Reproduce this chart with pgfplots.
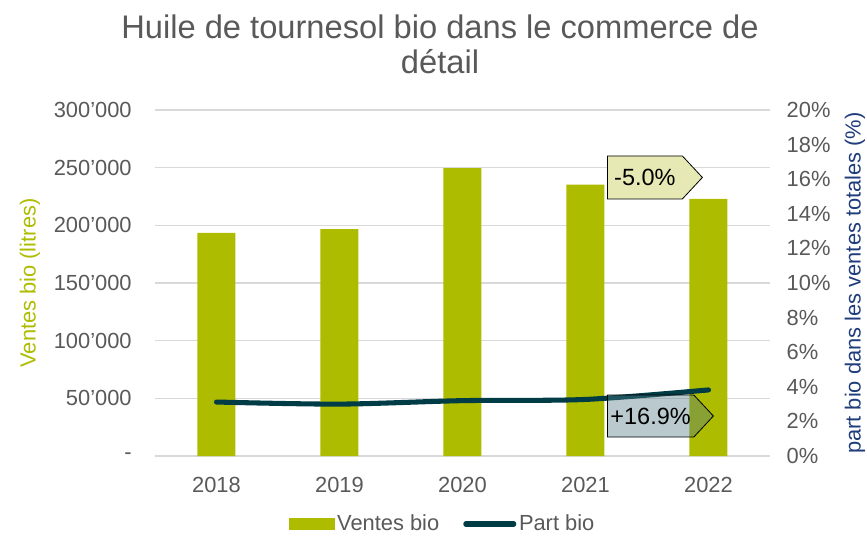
\documentclass[border=0pt]{standalone}
\usepackage{pgfplots}
\pgfplotsset{compat=1.18}
\usepackage{fontspec}
\setmainfont{Liberation Sans}
\usetikzlibrary{shapes.symbols}
\definecolor{barc}{HTML}{AEBC00}
\definecolor{linec}{HTML}{003C46}
\definecolor{txtc}{HTML}{595959}
\definecolor{gridc}{HTML}{D9D9D9}
\definecolor{rlab}{HTML}{1F3C7B}
\definecolor{callA}{HTML}{E6E9B3}
\definecolor{callB}{HTML}{507882}
\begin{document}
\begin{tikzpicture}
\path[use as bounding box] (-116.25pt,-60pt) rectangle (534pt,342pt);
\pgfplotsset{common/.style={
  width=461.25pt,height=259.5pt,scale only axis,
  at={(0pt,0pt)},anchor=south west,
  xmin=-0.5,xmax=4.5,
  axis line style={draw=none},
  tick style={draw=none},
  ticklabel style={font=\fontsize{16.4}{18}\selectfont,text=txtc},
  /pgf/number format/assume math mode=true,
  scaled ticks=false,
}}
\begin{axis}[common,
  ymin=0,ymax=300000,
  ytick={0,50000,100000,150000,200000,250000,300000},
  yticklabels={-,50’000,100’000,150’000,200’000,250’000,300’000},
  ymajorgrids,
  grid style={gridc,line width=1.1pt},
  xtick={0,1,2,3,4},
  xticklabels={2018,2019,2020,2021,2022},
  ybar,bar width=28.5pt,
  yticklabel style={xshift=-14pt},
  xticklabel style={yshift=-8pt},
]
\addplot[fill=barc,draw=none] coordinates {(0,193400) (1,196800) (2,249700) (3,235300) (4,223000)};
\end{axis}
\begin{axis}[common,
  ymin=0,ymax=20,
  axis y line*=right,
  axis x line=none,
  ytick={0,2,4,6,8,10,12,14,16,18,20},
  yticklabels={0\%,2\%,4\%,6\%,8\%,10\%,12\%,14\%,16\%,18\%,20\%},
  yticklabel style={xshift=9pt},
  legend columns=2,
  legend style={at={(0.468,-0.1965)},anchor=center,draw=none,fill=none,
    font=\fontsize{16.4}{18}\selectfont,text=txtc,
    /tikz/every even column/.append style={column sep=16pt},
    inner sep=0pt},
]
\addlegendimage{legend image code/.code={\fill[barc] (0pt,-4pt) rectangle (34pt,4pt);}}
\addlegendentry{Ventes bio}
\addplot[linec,line width=3.8pt,smooth,line cap=round,mark=none,
  legend image code/.code={\draw[linec,line width=3.8pt,line cap=round] (0pt,0pt) -- (36pt,0pt);}]
  coordinates {(0,3.12) (1,3.0) (2,3.2) (3,3.27) (4,3.82)};
\addlegendentry{Part bio}
\end{axis}
\node[text=txtc,font=\fontsize{24.5}{26}\selectfont,align=center] at (213.75pt,309pt) {Huile de tournesol bio dans le commerce de\\détail};
\node[text=barc,font=\fontsize{16.4}{18}\selectfont,rotate=90] at (-93.75pt,129.75pt) {Ventes bio (litres)};
\node[text=rlab,font=\fontsize{16.4}{18}\selectfont,rotate=90] at (525pt,129.75pt) {part bio dans les ventes totales (\%)};
\node[signal,signal to=east,signal pointer angle=94,draw=black,line width=0.6pt,fill=callA,
  minimum width=71.25pt,minimum height=32.25pt,inner sep=0pt,anchor=west,
  font=\fontsize{17.6}{18}\selectfont] at (339pt,208.9pt) {-5.0\%\hspace{12pt}};
\node[signal,signal to=east,signal pointer angle=94,draw=black,line width=0.6pt,fill=callB,fill opacity=0.4,text opacity=1,
  minimum width=79.5pt,minimum height=31.5pt,inner sep=0pt,anchor=west,
  font=\fontsize{17.6}{18}\selectfont] at (339pt,30pt) {+16.9\%\hspace{10pt}};
\end{tikzpicture}
\end{document}
